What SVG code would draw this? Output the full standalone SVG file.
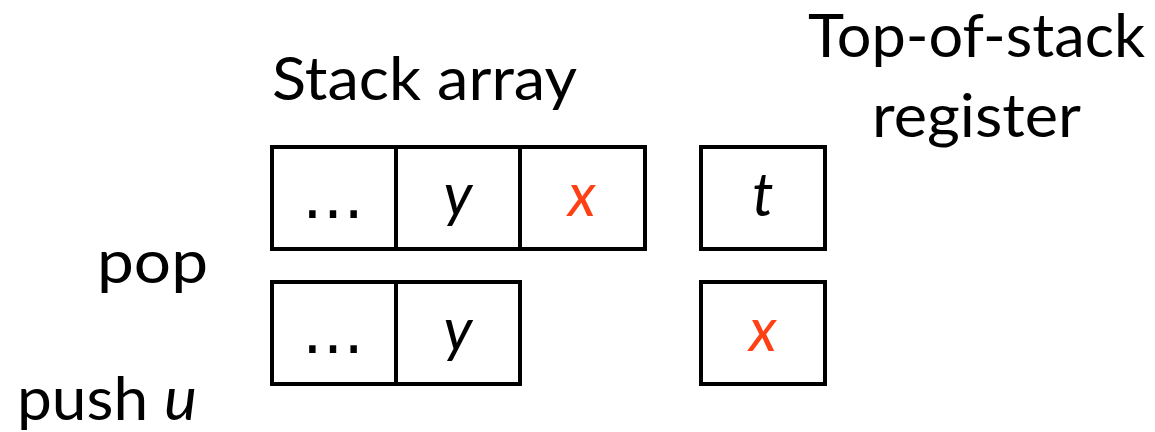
<svg xmlns="http://www.w3.org/2000/svg" width="1155" height="432" viewBox="0 0 1155 432">
<style>
  .lbl { font-family: Lato, "Noto Sans", "Liberation Sans", sans-serif; font-size: 60px; fill: #000; }
  .cell { fill: #fff; stroke: #000; stroke-width: 4; }
  .div { stroke: #000; stroke-width: 4; }
  .val { font-family: Lato, "Noto Sans", "Liberation Sans", sans-serif; font-size: 60px; font-style: italic; fill: #000; text-anchor: middle; }
  .dots { font-family: "DejaVu Sans", sans-serif; font-size: 62px; fill: #000; text-anchor: middle; }
  .red { fill: #ff3f14; }
</style>
<rect width="1155" height="432" fill="#fff"/>
<g id="title-stack"><text class="lbl" x="272" y="100" textLength="305" lengthAdjust="spacingAndGlyphs">Stack array</text></g>
<g id="title-register">
  <text class="lbl" x="808" y="57" font-size="56" textLength="337" lengthAdjust="spacingAndGlyphs">Top-of-stack</text>
  <text class="lbl" x="872" y="137" textLength="209" lengthAdjust="spacingAndGlyphs">register</text>
</g>
<g id="label-pop"><text class="lbl" x="97" y="283" textLength="111" lengthAdjust="spacingAndGlyphs">pop</text></g>
<g id="label-push"><text class="lbl" x="17" y="420" textLength="180" lengthAdjust="spacingAndGlyphs">push <tspan font-style="italic">u</tspan></text></g>
<g id="stack-before">
  <rect class="cell" x="272" y="147" width="373" height="102"/>
  <line class="div" x1="396" y1="147" x2="396" y2="249"/>
  <line class="div" x1="520" y1="147" x2="520" y2="249"/>
  <text class="dots" x="333" y="218">…</text>
  <text class="val" x="458" y="216">y</text>
  <text class="val red" x="582" y="216">x</text>
</g>
<g id="register-before">
  <rect class="cell" x="701" y="147" width="124" height="102"/>
  <text class="val" x="763" y="216">t</text>
</g>
<g id="stack-after">
  <rect class="cell" x="272" y="282" width="248" height="102"/>
  <line class="div" x1="396" y1="282" x2="396" y2="384"/>
  <text class="dots" x="333" y="353">…</text>
  <text class="val" x="458" y="351">y</text>
</g>
<g id="register-after">
  <rect class="cell" x="701" y="282" width="124" height="102"/>
  <text class="val red" x="763" y="351">x</text>
</g>
<g id="connectors"/>
</svg>
